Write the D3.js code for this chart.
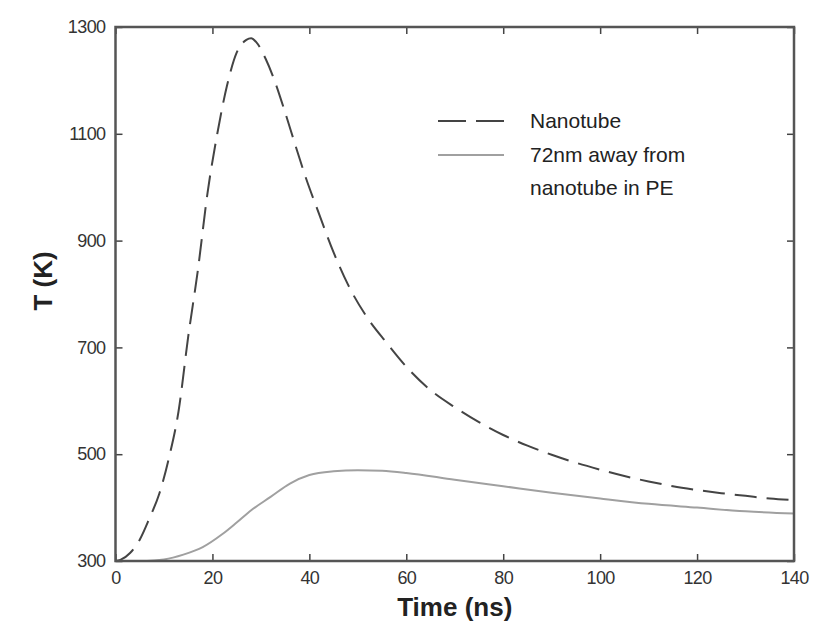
<!DOCTYPE html>
<html>
<head>
<meta charset="utf-8">
<script src="https://cdn.jsdelivr.net/npm/d3@7"></script>
<style>
  body { margin: 0; background: #fff; }
  svg { font-family: "Liberation Sans", Arial, sans-serif; }
</style>
</head>
<body>
<svg id="chart" width="817" height="634"></svg>
<script>
'use strict';

// time (ns) and temperature (K)
var nanotubeTime = [0, 1, 3, 5, 7, 9, 11, 13, 15, 17, 19, 21, 23, 25, 27, 28, 29, 31, 33, 35, 37, 39, 42, 45, 48, 52, 56, 60, 65, 70, 75, 80, 85, 90, 95, 100, 105, 110, 115, 120, 125, 130, 135, 140]
var nanotubeTemp = [300, 302, 315, 340, 380, 425, 492, 580, 720, 845, 990, 1100, 1190, 1252, 1276, 1279, 1272, 1240, 1195, 1140, 1082, 1025, 950, 878, 817, 755, 708, 664, 620, 588, 560, 536, 516, 499, 484, 471, 459, 449, 440, 433, 427, 422, 417, 414]

var peTime = [0, 5, 8, 10, 14, 18, 22, 25, 28, 32, 36, 40, 45, 50, 55, 60, 70, 80, 90, 100, 110, 120, 130, 140]
var peTemp = [300, 300, 301, 303, 312, 326, 350, 372, 395, 420, 445, 461, 468, 470, 469, 465, 452, 440, 428, 417, 407, 400, 393, 389]

var xTicks = [0, 20, 40, 60, 80, 100, 120, 140]
var yTicks = [300, 500, 700, 900, 1100, 1300]

var legendLabels = [["Nanotube"], ["72nm away from", "nanotube in PE"]]

var svg = d3.select("#chart")
var plotLeft = 115.5, plotRight = 794, plotTop = 27, plotBottom = 561

var x = d3.scaleLinear().domain([0, 140]).range([plotLeft, plotRight])
var y = d3.scaleLinear().domain([300, 1300]).range([plotBottom, plotTop])

function zip(a, b) {
    return a.map(function(v, i) { return [v, b[i]]; });
}

var line = d3.line()
    .x(function(d) { return x(d[0]); })
    .y(function(d) { return y(d[1]); })
    .curve(d3.curveMonotoneX)

// curves
svg.append("path")
    .datum(zip(peTime, peTemp))
    .attr("d", line)
    .attr("fill", "none")
    .attr("stroke", "#a0a0a0")
    .attr("stroke-width", 2)

svg.append("path")
    .datum(zip(nanotubeTime, nanotubeTemp))
    .attr("d", line)
    .attr("fill", "none")
    .attr("stroke", "#444")
    .attr("stroke-width", 2)
    .attr("stroke-dasharray", "22,10")

// axes, ticks pointing in on all four sides
var tickLen = 7
function styleAxis(g) {
    g.select(".domain").remove()
    g.selectAll(".tick line").attr("stroke", "#444").attr("stroke-width", 1.5)
    g.selectAll(".tick text")
        .attr("fill", "#333")
        .style("font-size", "18px")
        .style("letter-spacing", "-0.6px")
}

svg.append("g")
    .attr("transform", "translate(0," + plotBottom + ")")
    .call(d3.axisBottom(x).tickValues(xTicks).tickSize(-tickLen).tickPadding(10).tickFormat(d3.format("d")))
    .call(styleAxis)

svg.append("g")
    .attr("transform", "translate(0," + plotTop + ")")
    .call(d3.axisTop(x).tickValues(xTicks).tickSize(-tickLen).tickFormat(""))
    .call(styleAxis)

svg.append("g")
    .attr("transform", "translate(" + plotLeft + ",0)")
    .call(d3.axisLeft(y).tickValues(yTicks).tickSize(-tickLen).tickPadding(10).tickFormat(d3.format("d")))
    .call(styleAxis)

svg.append("g")
    .attr("transform", "translate(" + plotRight + ",0)")
    .call(d3.axisRight(y).tickValues(yTicks).tickSize(-tickLen).tickFormat(""))
    .call(styleAxis)

svg.append("rect")
    .attr("x", plotLeft)
    .attr("y", plotTop)
    .attr("width", plotRight - plotLeft)
    .attr("height", plotBottom - plotTop)
    .attr("fill", "none")
    .attr("stroke", "#555")
    .attr("stroke-width", 2.5)

// axis titles
svg.append("text")
    .attr("x", (plotLeft + plotRight) / 2)
    .attr("y", 616)
    .attr("text-anchor", "middle")
    .attr("fill", "#222")
    .style("font-size", "26px")
    .style("font-weight", "bold")
    .text("Time (ns)")

svg.append("text")
    .attr("transform", "translate(52,281) rotate(-90)")
    .attr("text-anchor", "middle")
    .attr("fill", "#222")
    .style("font-size", "26px")
    .style("font-weight", "bold")
    .text("T (K)")

// legend
var legend = svg.append("g")
var legendY = [121, 155]
legend.append("line")
    .attr("x1", 438).attr("x2", 504)
    .attr("y1", legendY[0]).attr("y2", legendY[0])
    .attr("stroke", "#444").attr("stroke-width", 2)
    .attr("stroke-dasharray", "28,10")
legend.append("line")
    .attr("x1", 438).attr("x2", 504)
    .attr("y1", legendY[1]).attr("y2", legendY[1])
    .attr("stroke", "#a0a0a0").attr("stroke-width", 2)

legendLabels.forEach(function(lines, i) {
    lines.forEach(function(s, j) {
        legend.append("text")
            .attr("x", 530)
            .attr("y", legendY[i] + j * 33)
            .attr("dy", "0.35em")
            .attr("fill", "#222")
            .style("font-size", "21px")
            .text(s)
    })
})
</script>
</body>
</html>
